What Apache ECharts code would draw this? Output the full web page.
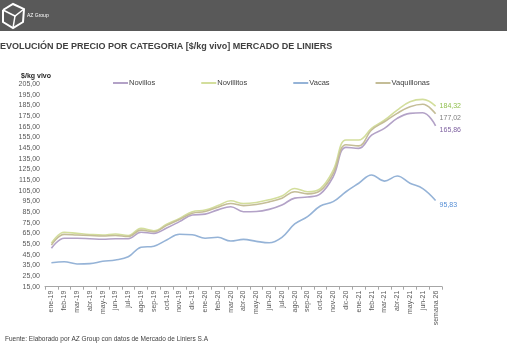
<!DOCTYPE html>
<html>
<head>
<meta charset="utf-8">
<script src="https://cdn.jsdelivr.net/npm/echarts@6/dist/echarts.min.js"></script>
<style>
  html, body { margin: 0; padding: 0; background: #fff; }
  #chart { width: 507px; height: 354px; }
</style>
</head>
<body>
<div id="chart"></div>
<script>
const categories = ['ene-19', 'feb-19', 'mar-19', 'abr-19', 'may-19', 'jun-19', 'jul-19', 'ago-19', 'sep-19', 'oct-19', 'nov-19', 'dic-19',
  'ene-20', 'feb-20', 'mar-20', 'abr-20', 'may-20', 'jun-20', 'jul-20', 'ago-20', 'sep-20', 'oct-20', 'nov-20', 'dic-20',
  'ene-21', 'feb-21', 'mar-21', 'abr-21', 'may-21', 'jun-21', 'semana 26'];

const novillos = [51, 60.4, 60.4, 60, 59.5, 60, 60, 66, 65, 70, 76, 82.2, 83, 87, 90, 85.3, 85.5, 87.5, 91.6, 98, 99, 102, 118, 145.6, 144.7, 157, 163.4, 172.8, 177.5, 178, 165.86];
const novillitos = [55.7, 66, 65, 64, 63.4, 64.4, 63, 69.7, 67.5, 73.5, 79, 85.3, 86.9, 91, 95.5, 93, 94, 96.5, 100, 107, 104, 107, 124, 152.5, 152.5, 163.4, 171, 180.6, 188.4, 190.6, 184.32];
const vacas = [37.5, 38.4, 36.3, 36.6, 38.8, 40, 43, 52, 53, 58.8, 64.1, 63.7, 60.4, 61.3, 57.8, 59.4, 57.5, 56.2, 61.3, 73.8, 80.6, 90.6, 94.7, 104, 112, 119.7, 114, 118.7, 112, 107, 95.83];
const vaquillonas = [54, 64, 63.5, 63, 62.5, 63, 62, 68, 66.5, 72.5, 78, 83.8, 85.5, 89.5, 93, 91, 92, 94.5, 98, 104, 102, 105, 121, 148, 147, 161.9, 169.6, 177.5, 183.7, 186, 177.02];

const fmt = v => v.toFixed(2).replace('.', ',');

const chart = echarts.init(document.getElementById('chart'));
const font = 'Liberation Sans, Arial, sans-serif';

// etiqueta al final de cada serie (último valor)
const line = (name, data, color, labelColor, dy) => ({
  name, type: 'line', data,
  smooth: 0.4, symbol: 'none',
  lineStyle: { width: 1.6, color }, itemStyle: { color },
  endLabel: {
    show: true, color: labelColor, fontSize: 7, distance: 4, offset: [0, dy],
    formatter: p => fmt(p.value),
  },
});

chart.setOption({
  animation: false,
  textStyle: { fontFamily: font },
  graphic: [
    { type: 'rect', shape: { x: 0, y: 0, width: 507, height: 31 }, style: { fill: '#595959' } },
    { type: 'polyline', shape: { points: [[3, 10], [13, 4], [24, 9], [23, 22], [13, 28], [3, 22], [3, 10]] }, style: { stroke: '#fff', lineWidth: 2, fill: null } },
    { type: 'polyline', shape: { points: [[3, 10], [15, 16], [24, 9]] }, style: { stroke: '#fff', lineWidth: 1.5, fill: null } },
    { type: 'polyline', shape: { points: [[15, 16], [13, 28]] }, style: { stroke: '#fff', lineWidth: 1.5, fill: null } },
    { type: 'text', left: 27, top: 13, style: { text: 'AZ Group', fill: '#fff', font: '5px ' + font } },
    { type: 'text', left: 0, top: 42, style: { text: 'EVOLUCIÓN DE PRECIO POR CATEGORIA [$/kg vivo] MERCADO DE LINIERS', fill: '#404040', font: 'bold 9px ' + font } },
    { type: 'text', left: 5, top: 336, style: { text: 'Fuente: Elaborado por AZ Group con datos de Mercado de Liniers S.A', fill: '#404040', font: '6.5px ' + font } },
  ],
  legend: {
    top: 74, left: 108, itemWidth: 15, itemHeight: 2, itemGap: 46, icon: 'rect',
    textStyle: { fontSize: 7.5, color: '#404040', padding: [0, 0, 0, -4] },
    data: ['Novillos', 'Novillitos', 'Vacas', 'Vaquillonas'],
  },
  grid: { left: 45, right: 65, top: 84, bottom: 67.3 },
  xAxis: {
    type: 'category', data: categories, boundaryGap: true,
    axisLine: { lineStyle: { color: '#a6a6a6' } },
    axisTick: { show: true, length: 3, lineStyle: { color: '#a6a6a6' } },
    axisLabel: { rotate: 90, fontSize: 7, color: '#595959', interval: 0, margin: 4 },
  },
  yAxis: {
    type: 'value', min: 15, max: 205, interval: 10,
    name: '$/kg vivo', nameLocation: 'end', nameGap: 4,
    nameTextStyle: { fontSize: 7, fontWeight: 'bold', color: '#262626', align: 'right', padding: [0, -6, 0, 0] },
    axisLine: { show: false }, axisTick: { show: false }, splitLine: { show: false },
    axisLabel: { fontSize: 7, color: '#595959', margin: 5, formatter: fmt },
  },
  series: [
    line('Novillos', novillos, '#b3a2c7', '#8064a2', 4),
    line('Novillitos', novillitos, '#d3de9c', '#92c050', 0),
    line('Vacas', vacas, '#95b3d7', '#558ed5', 5),
    line('Vaquillonas', vaquillonas, '#c4bd97', '#7f7f7f', 4),
  ],
});
</script>
</body>
</html>
